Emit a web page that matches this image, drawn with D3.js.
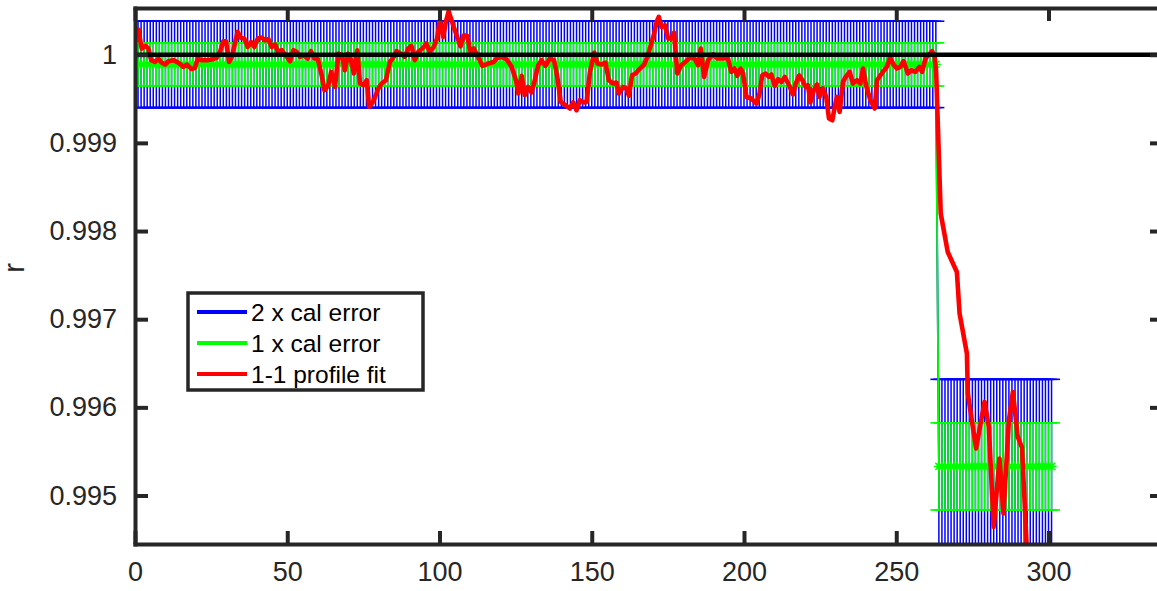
<!DOCTYPE html>
<html>
<head>
  <meta charset="UTF-8" />
  <title>r vs index</title>
  <script src="https://cdn.jsdelivr.net/npm/d3@7"></script>
  <style>
    body {
      margin: 0;
      background: #ffffff;
      overflow: hidden;
    }
    #chart svg {
      display: block;
      font-family: 'Liberation Sans', Arial, sans-serif;
    }
  </style>
</head>
<body>
  <div id="chart"></div>

  <script>
    // Calibration error bars: constant within each segment
    const segStart = [1, 264]
    const segEnd = [263, 301]
    const segCenter = [0.99989, 0.99533]
    const segCalErr = [0.000245, 0.000494]

    // 1-1 profile fit (red line), vertices
    const fitX = [
      1, 2.2, 3.5, 4.4, 5.3, 6.6, 7.7, 8.7, 9.9, 11, 12.6, 14.2, 15.9, 17, 18.6, 19.7,
      20.6, 21.9, 23.6, 25.2, 26.8, 27.9, 29, 29.9, 30.9, 31.8, 32.8, 33.7, 34.8, 35.9,
      37, 38.1, 39.2, 40.3, 41.6, 42.7, 43.8, 44.9, 46, 47.1, 48.2, 49.3, 50.9, 52, 53.1,
      54.2, 55.3, 56.7, 57.8, 58.9, 60, 61.3, 62.2, 63.5, 64.4, 65.7, 66.8, 67.9, 68.9,
      70, 70.8, 71.9, 73, 73.9, 75, 76.1, 76.9, 78.2, 79.9, 81, 82.4, 83.7, 85, 85.9,
      87.2, 88.6, 89.7, 90.8, 91.9, 93, 94.4, 95.7, 96.8, 98.1, 99.2, 100.1, 101.2,
      102.1, 103, 104.3, 105.6, 106.9, 108, 109.1, 110.2, 111.3, 112.4, 114.1, 116,
      117.8, 118.9, 120.4, 122, 123.7, 125.1, 125.9, 127, 128, 129.1, 130.2, 131.3,
      132.4, 133.5, 134.8, 136.2, 137.6, 138.7, 139.8, 141.4, 142.8, 143.9, 145, 146.1,
      147.5, 148.3, 149.4, 150.8, 151.9, 153.2, 154.5, 155.6, 157, 158.1, 158.9, 160.3,
      161.4, 162.2, 163.2, 164.4, 165.8, 167.2, 168.3, 169.4, 170.5, 171.3, 172, 172.9,
      174, 175.1, 176.2, 177, 178.1, 179.4, 180.7, 182.2, 183.6, 184.9, 185.8, 186.9,
      188.2, 189.8, 191.3, 193.1, 194.7, 195.8, 196.9, 197.8, 198.9, 199.7, 200.8,
      202.4, 204.1, 205.1, 206, 207.1, 208.2, 209, 210.1, 211.2, 212.3, 213.4, 214.8,
      216.1, 217, 218.1, 219.2, 220.2, 221, 221.8, 222.9, 224, 224.8, 225.9, 227, 227.9,
      229, 229.8, 230.5, 231.4, 232.5, 233.4, 234.7, 235.8, 237.1, 238.2, 239.1, 240.2,
      241.5, 242.9, 243.7, 244.8, 245.8, 246.9, 248, 249.1, 250.2, 251.3, 252.4, 253.8,
      254.9, 256.3, 257.6, 258.5, 259.6, 260.7, 261.8, 262.6, 263.1, 264.6, 266.9,
      269.9, 270.8, 273.2, 273.5, 276.2, 277.3, 279, 280.4, 282, 283.9, 285.2, 287,
      288.3, 289.9, 291.3, 293
    ]
    const fitR = [
      1.000304, 1.00007, 1.0001, 1.00007, 0.999938, 0.999918, 0.999957, 0.999911, 0.999889,
      0.999926, 0.999938, 0.999911, 0.999862, 0.999889, 0.999836, 0.99985, 0.999957,
      0.999938, 0.999938, 0.999945, 0.999964, 1.000032, 1.000153, 1.000153, 0.999918,
      0.999975, 1.000127, 1.000259, 1.00019, 1.000184, 1.000088, 1.000145, 1.000088,
      1.000184, 1.000195, 1.000164, 1.000176, 1.000088, 1.000116, 1.000025, 1.000051,
      1.000002, 0.999926, 1.000051, 1.000032, 0.999975, 0.999994, 0.999957, 1.00004,
      0.999957, 0.999957, 0.999767, 0.999597, 0.999654, 0.999805, 0.999635, 1.000013,
      0.999994, 0.999824, 1.000013, 0.999957, 0.999787, 1.000051, 0.999673, 0.999654,
      0.999711, 0.999408, 0.999465, 0.999617, 0.999673, 0.999711, 0.999918, 0.999975,
      1.00004, 1.000013, 0.999975, 1.00007, 1.0001, 0.999938, 1.000032, 1.00007, 1.000127,
      1.000032, 1.000088, 1.000184, 1.000391, 1.000202, 1.000372, 1.000493, 1.000354,
      1.000221, 1.000096, 1.000221, 1.000213, 1.000032, 1.00007, 0.999994, 0.999873, 0.9999,
      0.999918, 0.999964, 0.999975, 0.999949, 0.999862, 0.999711, 0.99956, 0.99976,
      0.999541, 0.999635, 0.999571, 0.999711, 0.999881, 0.999938, 0.999873, 0.999957,
      0.999938, 0.999748, 0.999465, 0.999427, 0.99939, 0.999458, 0.99937, 0.999484,
      0.999458, 0.999465, 0.999805, 1.000025, 0.9999, 0.999889, 0.999911, 0.999711,
      0.999673, 0.999685, 0.99956, 0.999635, 0.999617, 0.999533, 0.999767, 0.999787,
      0.999843, 0.999889, 0.999975, 1.000108, 1.00024, 1.000372, 1.000429, 1.000315,
      1.000335, 1.000184, 1.000184, 1.000252, 0.999787, 0.999881, 0.999918, 0.999964,
      0.999964, 0.999881, 1.00007, 0.999748, 0.999938, 1.000002, 0.999957, 0.999957,
      0.999964, 0.999805, 0.999843, 0.99976, 0.999843, 0.999787, 0.999521, 0.999503,
      0.999446, 0.99956, 0.999767, 0.999787, 0.999748, 0.999775, 0.999646, 0.999722,
      0.999691, 0.999748, 0.999654, 0.999549, 0.999673, 0.999767, 0.999711, 0.999635,
      0.999654, 0.999458, 0.999597, 0.999662, 0.999521, 0.999617, 0.999521, 0.999276,
      0.999257, 0.999408, 0.999521, 0.999351, 0.999691, 0.999748, 0.999805, 0.999673,
      0.999711, 0.999673, 0.999843, 0.999635, 0.999484, 0.99939, 0.999711, 0.999767,
      0.999813, 0.999862, 0.999964, 0.999889, 0.999843, 0.999862, 0.999926, 0.999787,
      0.999824, 0.999805, 0.999862, 0.999805, 0.999957, 1.000002, 1.00004, 0.999975,
      0.999805, 0.998199, 0.997763, 0.997536, 0.997064, 0.996611, 0.996157, 0.995533,
      0.995741, 0.996062, 0.995778, 0.994644, 0.99542, 0.994796, 0.995854, 0.996175,
      0.995665, 0.995544, 0.9943
    ]

    // Reference line at r = 1
    const refValue = 1

    // Axis ticks and legend
    const xTicks = [0, 50, 100, 150, 200, 250, 300]
    const yTicks = [0.995, 0.996, 0.997, 0.998, 0.999, 1]
    const legendLabels = ['2 x cal error', '1 x cal error', '1-1 profile fit']
    const legendColors = ['#0000ff', '#00ff00', '#ff0000']

    const width = 1157
    const height = 591
    const axisColor = '#262626'

    const svg = d3
      .select('#chart')
      .append('svg')
      .attr('width', width)
      .attr('height', height)

    // The axes box runs a little past the right edge of the picture
    const x = d3.scaleLinear().domain([0, 337.6]).range([135, 1163])
    const y = d3.scaleLinear().domain([0.99445, 1.00053]).range([544, 8])

    svg
      .append('clipPath')
      .attr('id', 'plot-clip')
      .append('rect')
      .attr('x', x(0))
      .attr('y', y.range()[1])
      .attr('width', x.range()[1] - x(0))
      .attr('height', y.range()[0] - y.range()[1])

    // Expand the segments to one error bar per index
    const bars = []
    segStart.forEach((s, i) => {
      for (let k = s; k <= segEnd[i]; k++) {
        bars.push({ x: k, c: segCenter[i], e: segCalErr[i] })
      }
    })

    const plot = svg.append('g').attr('clip-path', 'url(#plot-clip)')
    const capHalf = 8.5

    function drawErrorBars(mult, color) {
      const g = plot.append('g')
      g.selectAll('line.bar')
        .data(bars)
        .enter()
        .append('line')
        .attr('class', 'bar')
        .attr('x1', (d) => x(d.x))
        .attr('x2', (d) => x(d.x))
        .attr('y1', (d) => y(d.c - mult * d.e))
        .attr('y2', (d) => y(d.c + mult * d.e))
        .attr('stroke', color)
        .attr('stroke-width', 1.5)
      ;[-1, 1].forEach((sgn) => {
        g.selectAll('line.cap' + (sgn > 0 ? 'u' : 'l'))
          .data(bars)
          .enter()
          .append('line')
          .attr('x1', (d) => x(d.x) - capHalf)
          .attr('x2', (d) => x(d.x) + capHalf)
          .attr('y1', (d) => y(d.c + sgn * mult * d.e))
          .attr('y2', (d) => y(d.c + sgn * mult * d.e))
          .attr('stroke', color)
          .attr('stroke-width', 1.6)
      })
      g.append('path')
        .datum(bars)
        .attr('fill', 'none')
        .attr('stroke', color)
        .attr('stroke-width', 1.8)
        .attr(
          'd',
          d3
            .line()
            .x((d) => x(d.x))
            .y((d) => y(d.c))
        )
      return g
    }

    drawErrorBars(2, '#0000ff')
    const green = drawErrorBars(1, '#00ff00')

    // asterisk markers on the 1 x cal error centres
    const r = 5
    const d45 = r * Math.SQRT1_2
    green
      .selectAll('path.star')
      .data(bars)
      .enter()
      .append('path')
      .attr('class', 'star')
      .attr('d', (d) => {
        const cx = x(d.x)
        const cy = y(d.c)
        return (
          `M${cx - r},${cy}H${cx + r}M${cx},${cy - r}V${cy + r}` +
          `M${cx - d45},${cy - d45}L${cx + d45},${cy + d45}` +
          `M${cx - d45},${cy + d45}L${cx + d45},${cy - d45}`
        )
      })
      .attr('stroke', '#00ff00')
      .attr('stroke-width', 1.5)
      .attr('fill', 'none')

    // red profile fit
    plot
      .append('path')
      .datum(fitX.map((v, i) => [v, fitR[i]]))
      .attr('fill', 'none')
      .attr('stroke', '#ff0000')
      .attr('stroke-width', 4.6)
      .attr('stroke-linejoin', 'round')
      .attr(
        'd',
        d3
          .line()
          .x((d) => x(d[0]))
          .y((d) => y(d[1]))
      )

    // black line at r = 1
    plot
      .append('line')
      .attr('x1', x(0))
      .attr('x2', x.range()[1])
      .attr('y1', y(refValue))
      .attr('y2', y(refValue))
      .attr('stroke', '#000000')
      .attr('stroke-width', 4.4)

    // axes (box on, ticks pointing inwards)
    const fmt = d3.format('~g')
    const tickLen = 13

    function styleAxis(g) {
      g.selectAll('path.domain')
        .attr('stroke', axisColor)
        .attr('stroke-width', 4)
        .attr('stroke-linecap', 'square')
      g.selectAll('.tick line').attr('stroke', axisColor).attr('stroke-width', 4)
      g.selectAll('.tick text')
        .attr('fill', axisColor)
        .style('font-size', '27px')
        .style('font-family', "'Liberation Sans', Arial, sans-serif")
    }

    svg
      .append('g')
      .attr('transform', `translate(0,${y.range()[0]})`)
      .call(
        d3.axisBottom(x).tickValues(xTicks).tickFormat(fmt).tickSize(-tickLen).tickSizeOuter(0).tickPadding(18)
      )
      .call(styleAxis)

    svg
      .append('g')
      .attr('transform', `translate(0,${y.range()[1]})`)
      .call(d3.axisTop(x).tickValues(xTicks).tickFormat('').tickSize(-tickLen).tickSizeOuter(0))
      .call(styleAxis)

    svg
      .append('g')
      .attr('transform', `translate(${x(0)},0)`)
      .call(
        d3.axisLeft(y).tickValues(yTicks).tickFormat(fmt).tickSize(-tickLen).tickSizeOuter(0).tickPadding(18)
      )
      .call(styleAxis)

    svg
      .append('g')
      .attr('transform', `translate(${x.range()[1]},0)`)
      .call(d3.axisRight(y).tickValues(yTicks).tickFormat('').tickSize(-tickLen).tickSizeOuter(0))
      .call(styleAxis)

    // y label
    svg
      .append('text')
      .attr('transform', 'translate(24,268) rotate(-90)')
      .attr('text-anchor', 'middle')
      .attr('fill', axisColor)
      .style('font-size', '29px')
      .text('r')

    // legend
    const legend = svg.append('g').attr('transform', 'translate(188,293)')
    legend
      .append('rect')
      .attr('width', 235)
      .attr('height', 97)
      .attr('fill', '#ffffff')
      .attr('stroke', axisColor)
      .attr('stroke-width', 3.5)

    legendLabels.forEach((label, i) => {
      const yy = 19 + i * 31
      legend
        .append('line')
        .attr('x1', 9)
        .attr('x2', 59)
        .attr('y1', yy)
        .attr('y2', yy)
        .attr('stroke', legendColors[i])
        .attr('stroke-width', 4)
      legend
        .append('text')
        .attr('x', 63)
        .attr('y', yy)
        .attr('dy', '0.35em')
        .attr('fill', '#000000')
        .style('font-size', '24.5px')
        .text(label)
    })
  </script>
</body>
</html>
